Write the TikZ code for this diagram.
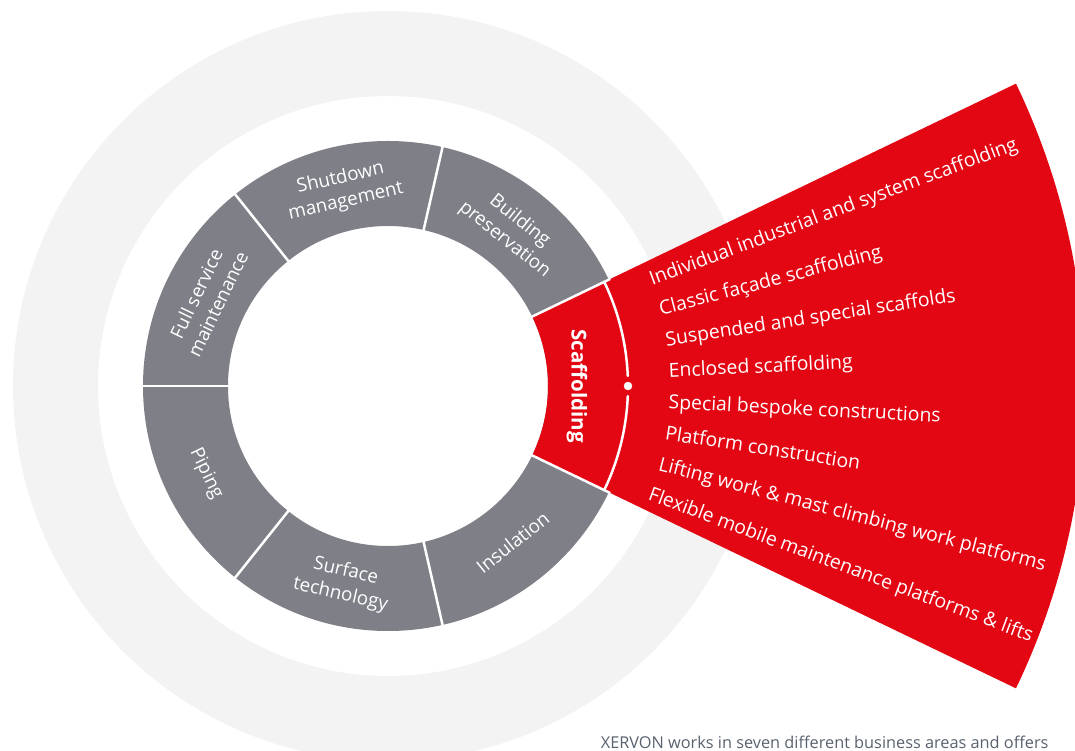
\documentclass[tikz,border=0pt]{standalone}
\usepackage{fontspec}
\setmainfont{Open Sans}
\usepackage{tikz}
\usetikzlibrary{calc}

\definecolor{ringgray}{RGB}{127,128,135}
\definecolor{xred}{RGB}{227,6,19}
\definecolor{halo}{RGB}{243,243,243}
\definecolor{notegray}{RGB}{88,98,110}

\begin{document}
\begin{tikzpicture}[line cap=round,line join=round,x=1pt,y=1pt,
  seglabel/.style={text=white,align=center,inner sep=0pt,font=\fontsize{18.8}{24}\selectfont},
  item/.style={text=white,anchor=base west,inner sep=0pt,font=\fontsize{19.4}{22}\selectfont}]

\useasboundingbox (-388,-365) rectangle (687,386);
\clip (-388,-365) rectangle (687,386);

% light halo and ring
\fill[halo,even odd rule] (0,0) circle (375) (0,0) circle (290);
\fill[ringgray,even odd rule] (0,0) circle (245) (0,0) circle (160);
% red fan of scaffolding
\fill[xred] (-25.71:160) -- (-25.71:697) arc (-25.71:25.71:697) -- (25.71:160) arc (25.71:-25.71:160) -- cycle;

% separators
\draw[white,line width=2.5] (25.71:158)-- (25.71:246);
\draw[white,line width=2.5] (77.14:158)-- (77.14:246);
\draw[white,line width=2.5] (128.57:158)-- (128.57:246);
\draw[white,line width=2.5] (180:158)-- (180:246);
\draw[white,line width=2.5] (231.43:158)-- (231.43:246);
\draw[white,line width=2.5] (282.86:158)-- (282.86:246);
\draw[white,line width=2.5] (334.29:158)-- (334.29:246);
\draw[white,line width=2.5] (25.71:240) arc (25.71:2.4:240);
\draw[white,line width=2.5] (-2.4:240) arc (-2.4:-25.71:240);
\draw[white,fill=white] (240,0) circle (4);

% business areas
\node[seglabel,rotate=12.86] (shutdown) at (102.86:201) {Shutdown\\management};
\node[seglabel,rotate=-38.57] (building) at (51.43:199) {Building\\preservation};
\node[seglabel,rotate=64.29] (fullservice) at (154.29:201) {Full service\\maintenance};
\node[seglabel,rotate=-64.29] (piping) at (205.71:202) {Piping};
\node[seglabel,rotate=-12.86] (surface) at (257.14:202) {Surface\\technology};
\node[seglabel,rotate=38.57] (insulation) at (308.57:200) {Insulation};
\node[seglabel,font=\fontsize{20.5}{24}\selectfont\bfseries,rotate=-90] (scaffolding) at (0:189) {Scaffolding};

% scaffolding services
\coordinate (fo) at (-26,0);
\node[item,rotate=20.4] (indiv) at ($(fo)+(20.4:307)+(-69.6:7)$) {Individual industrial and system scaffolding};
\node[item,rotate=14.6] (classic) at ($(fo)+(14.6:307)+(-75.4:7)$) {Classic façade scaffolding};
\node[item,rotate=8.75] (suspended) at ($(fo)+(8.75:307)+(-81.25:7)$) {Suspended and special scaffolds};
\node[item,rotate=2.9] (enclosed) at ($(fo)+(2.9:307)+(-87.1:7)$) {Enclosed scaffolding};
\node[item,rotate=-2.9] (bespoke) at ($(fo)+(-2.9:307)+(-92.9:7)$) {Special bespoke constructions};
\node[item,rotate=-8.75] (platform) at ($(fo)+(-8.75:307)+(-98.75:7)$) {Platform construction};
\node[item,rotate=-14.6] (lifting) at ($(fo)+(-14.6:307)+(-104.6:7)$) {Lifting work \& mast climbing work platforms};
\node[item,rotate=-20.4] (flexible) at ($(fo)+(-20.4:307)+(-110.4:7)$) {Flexible mobile maintenance platforms \& lifts};

\node[anchor=base west,inner sep=0pt,text=notegray,font=\fontsize{16.3}{20}\selectfont] (note) at (212.7,-362) {XERVON works in seven different business areas and offers};
\end{tikzpicture}
\end{document}
